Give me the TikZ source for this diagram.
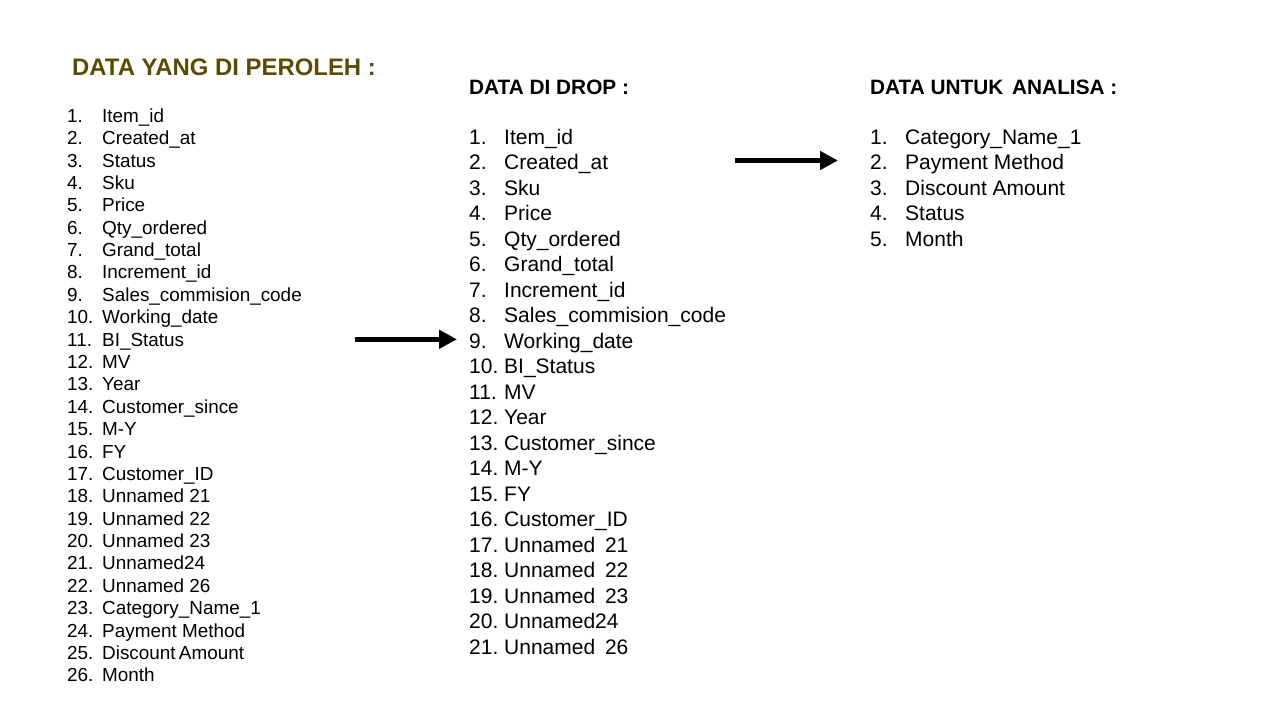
\documentclass[tikz,border=0pt]{standalone}
\usepackage{fontspec}
\setmainfont{Liberation Sans}
\usetikzlibrary{arrows.meta}
\definecolor{titlecol}{RGB}{94,74,0}
\tikzset{
 itemA/.style={anchor=base west,inner sep=0pt,font=\fontsize{18.9}{22}\selectfont},
 itemB/.style={anchor=base west,inner sep=0pt,font=\fontsize{21}{25}\selectfont},
 titleA/.style={anchor=base west,inner sep=0pt,font=\fontsize{23.9}{27}\selectfont\bfseries,text=titlecol},
 titleB/.style={anchor=base west,inner sep=0pt,font=\fontsize{20.8}{24}\selectfont\bfseries},
 bigarrow/.style={line width=5pt,-{Triangle[length=18pt,width=18pt]}},
}
\begin{document}
\begin{tikzpicture}[x=1pt,y=-1pt]
\useasboundingbox (0,0) rectangle (1280,720);
% titles
\node[titleA] (t1) at (72,75.5) {DATA YANG DI PEROLEH :};
\node[titleB] (t2) at (469,94) {DATA DI DROP :};
\node[titleB] (t3) at (870,94) {DATA UNTUK\hspace{3pt} ANALISA :};
% list 1
\foreach \t [count=\i] in {Item\_id,Created\_at,Status,Sku,Price,Qty\_ordered,Grand\_total,Increment\_id,Sales\_commision\_code,Working\_date,BI\_Status,MV,Year,Customer\_since,M-Y,FY,Customer\_ID,Unnamed 21,Unnamed 22,Unnamed 23,Unnamed24,Unnamed 26,Category\_Name\_1,Payment Method,Discount\hspace{-2pt} Amount,Month}{
  \node[itemA] (l1n\i) at (67,{122.3+22.38*(\i-1)}) {\i.};
  \node[itemA] (l1t\i) at (102,{122.3+22.38*(\i-1)}) {\t};
}
% list 2
\foreach \t [count=\i] in {Item\_id,Created\_at,Sku,Price,Qty\_ordered,Grand\_total,Increment\_id,Sales\_commision\_code,Working\_date,BI\_Status,MV,Year,Customer\_since,M-Y,FY,Customer\_ID,Unnamed\hspace{4pt} 21,Unnamed\hspace{4pt} 22,Unnamed\hspace{4pt} 23,Unnamed24,Unnamed\hspace{4pt} 26}{
  \node[itemB] (l2n\i) at (469,{144+25.5*(\i-1)}) {\i.};
  \node[itemB] (l2t\i) at (504,{144+25.5*(\i-1)}) {\t};
}
% list 3
\foreach \t [count=\i] in {Category\_Name\_1,Payment Method,Discount Amount,Status,Month}{
  \node[itemB] (l3n\i) at (870,{144+25.5*(\i-1)}) {\i.};
  \node[itemB] (l3t\i) at (905,{144+25.5*(\i-1)}) {\t};
}
% arrows
\coordinate (a1s) at (355,339.3);
\coordinate (a1e) at (457,339.3);
\coordinate (a2s) at (735,160.5);
\coordinate (a2e) at (838,160.5);
\draw[bigarrow] (a1s) -- (a1e);
\draw[bigarrow] (a2s) -- (a2e);
\end{tikzpicture}
\end{document}
